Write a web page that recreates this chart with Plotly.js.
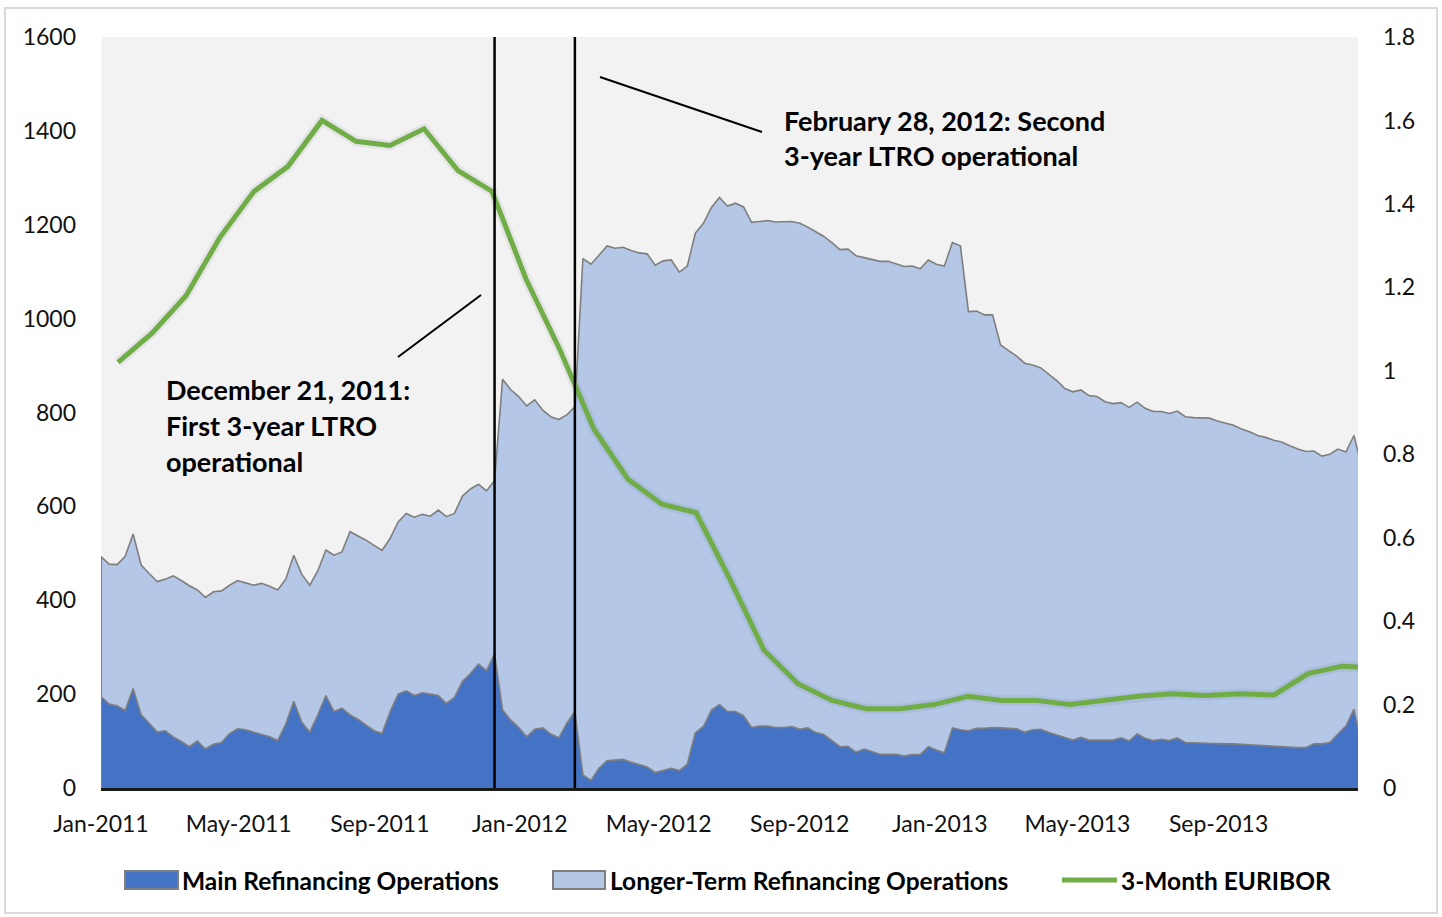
<!DOCTYPE html>
<html>
<head>
<meta charset="utf-8">
<script src="https://cdn.plot.ly/plotly-3.0.1.min.js"></script>
<style>
  html, body { margin: 0; padding: 0; background: #ffffff; }
  #chart { width: 1442px; height: 917px; }
</style>
</head>
<body>
<div id="chart"></div>
<script>
// Weekly observations start (Wednesday) and spacing
const weekStart = '2011-01-12';
const weekStepDays = 7;

// Main Refinancing Operations (EUR bn), weekly
const mroValues = [
  195,179,175,165,212,156,138,119,122,109,99,88,100,83,93,97,116,126,124,119,
  115,109,101,136,185,140,119,156,197,163,170,156,146,134,122,116,163,200,207,197,
  203,200,197,180,193,227,244,264,250,286,166,145,129,109,125,128,115,107,138,163,
  28,16,42,58,60,61,55,50,45,33,38,42,37,51,118,131,166,178,163,163,
  154,129,132,132,129,129,131,125,128,118,114,101,88,89,76,83,77,72,72,72,
  68,71,71,88,81,75,128,124,122,127,127,129,128,127,126,119,124,125,118,113,
  108,102,108,102,102,102,102,107,100,115,106,101,104,101,107,97,97,96,95,94,
  94,94,93,92,90,89,89,88,87,86,86,94,94,97,115,132,168,90
];

// Longer-Term Refinancing Operations (EUR bn), weekly
const ltroValues = [
  298,298,301,328,329,319,319,321,323,343,343,343,322,323,325,323,316,316,313,313,
  321,321,321,309,311,315,313,307,310,333,333,390,391,394,395,390,369,367,378,380,
  380,379,395,398,392,395,393,383,383,369,705,704,705,705,702,677,676,678,657,649,
  1100,1100,1093,1097,1090,1091,1090,1090,1093,1081,1085,1083,1062,1061,1064,1072,1071,1080,1077,1083,
  1084,1076,1075,1077,1077,1077,1076,1078,1067,1067,1061,1061,1059,1059,1058,1047,1049,1050,1050,1044,
  1043,1041,1035,1037,1035,1037,1034,1031,893,889,881,879,816,805,794,786,777,770,764,755,
  743,742,740,734,732,721,717,714,711,707,703,701,698,697,696,694,692,693,693,688,
  684,679,672,667,661,658,652,649,642,636,631,624,613,614,607,584,583,591
];

// 3-Month EURIBOR (%), monthly averages
const euriborMonths = [
  'Jan-2011','Feb-2011','Mar-2011','Apr-2011','May-2011','Jun-2011','Jul-2011','Aug-2011','Sep-2011','Oct-2011','Nov-2011','Dec-2011',
  'Jan-2012','Feb-2012','Mar-2012','Apr-2012','May-2012','Jun-2012','Jul-2012','Aug-2012','Sep-2012','Oct-2012','Nov-2012','Dec-2012',
  'Jan-2013','Feb-2013','Mar-2013','Apr-2013','May-2013','Jun-2013','Jul-2013','Aug-2013','Sep-2013','Oct-2013','Nov-2013','Dec-2013',
  'Jan-2014','Feb-2014'
];
const euriborValues = [
  1.02,1.09,1.18,1.32,1.43,1.49,1.60,1.55,1.54,1.58,1.48,1.43,
  1.22,1.05,0.86,0.74,0.68,0.66,0.50,0.33,0.25,0.21,0.19,0.19,
  0.20,0.22,0.21,0.21,0.20,0.21,0.22,0.226,0.222,0.226,0.223,0.274,
  0.292,0.288
];

// Event markers (position of the vertical rules on the date axis)
const eventDates = ['2011-12-21', '2012-02-29'];
const eventLabels = [
  ['December 21, 2011:', 'First 3-year LTRO', 'operational'],
  ['February 28, 2012: Second', '3-year LTRO operational']
];
const seriesNames = ['Main Refinancing Operations', 'Longer-Term Refinancing Operations', '3-Month EURIBOR'];

// Build weekly date list
function addDays(iso, n) {
  const d = new Date(iso + 'T00:00:00Z');
  d.setTime(d.getTime() + n * 86400000);
  return d.toISOString().slice(0, 19).replace('T', ' ');
}
const weekDates = mroValues.map((_, i) => addDays(weekStart, i * weekStepDays).slice(0, 10));
const axisEnd = addDays(weekStart, (mroValues.length - 1.5) * weekStepDays);

const FONT = 'Lato, "Open Sans", sans-serif';
const C_MRO = '#4472c4', C_LTRO = '#b4c7e7', C_EDGE = '#7f7f7f', C_GREEN = '#70ad47';

const traces = [
  {
    x: weekDates, y: mroValues, name: seriesNames[0], type: 'scatter', mode: 'lines',
    stackgroup: 'ops', fillcolor: C_MRO, line: {color: C_EDGE, width: 1.6},
    xaxis: 'x', yaxis: 'y', hoverinfo: 'x+y+name'
  },
  {
    x: weekDates, y: ltroValues, name: seriesNames[1], type: 'scatter', mode: 'lines',
    stackgroup: 'ops', fillcolor: C_LTRO, line: {color: C_EDGE, width: 1.6},
    xaxis: 'x', yaxis: 'y', hoverinfo: 'x+y+name'
  },
  {
    x: euriborMonths, y: euriborValues, name: 'shadow', type: 'scatter', mode: 'lines',
    line: {color: 'rgba(60,60,90,0.08)', width: 10}, xaxis: 'x2', yaxis: 'y2',
    hoverinfo: 'skip', showlegend: false
  },
  {
    x: euriborMonths, y: euriborValues, name: seriesNames[2], type: 'scatter', mode: 'lines',
    line: {color: C_GREEN, width: 5}, xaxis: 'x2', yaxis: 'y2'
  }
];

// plot-area pixel helpers (paper fractions)
const PL = 101, PR = 1358, PT = 37, PB = 788;
const px = v => (v - PL) / (PR - PL);
const py = v => (PB - v) / (PB - PT);

const shapes = [];
// chart border
shapes.push({type: 'rect', xref: 'paper', yref: 'paper', x0: px(5), x1: px(1437), y0: py(913), y1: py(8),
  line: {color: '#d9d9d9', width: 2}, fillcolor: 'rgba(0,0,0,0)', layer: 'below'});
// left edge of the stacked area
shapes.push({type: 'line', xref: 'x', yref: 'y', x0: weekDates[0], x1: weekDates[0], y0: 0,
  y1: mroValues[0] + ltroValues[0], line: {color: C_EDGE, width: 2}});
// event verticals
eventDates.forEach(d => shapes.push({type: 'line', xref: 'x', yref: 'paper', x0: d, x1: d, y0: 0, y1: 1,
  line: {color: '#000000', width: 2.5}, layer: 'above'}));
// leader lines
shapes.push({type: 'line', xref: 'paper', yref: 'paper', x0: px(398), y0: py(357), x1: px(481), y1: py(295),
  line: {color: '#000000', width: 2}});
shapes.push({type: 'line', xref: 'paper', yref: 'paper', x0: px(600), y0: py(77), x1: px(762), y1: py(132),
  line: {color: '#000000', width: 2}});
// legend swatches
shapes.push({type: 'rect', xref: 'paper', yref: 'paper', x0: px(125), x1: px(178), y0: py(889), y1: py(871),
  fillcolor: C_MRO, line: {color: C_EDGE, width: 2}});
shapes.push({type: 'rect', xref: 'paper', yref: 'paper', x0: px(553), x1: px(605), y0: py(889), y1: py(871),
  fillcolor: C_LTRO, line: {color: C_EDGE, width: 2}});
shapes.push({type: 'line', xref: 'paper', yref: 'paper', x0: px(1062), x1: px(1117), y0: py(880), y1: py(880),
  line: {color: C_GREEN, width: 5}});

const annFont = {family: FONT, size: 27, color: '#000000', weight: 700};
const legFont = {family: FONT, size: 24.5, color: '#000000', weight: 700};
const annotations = [];
const ev1Y = [389, 425, 461];
eventLabels[0].forEach((t, i) => annotations.push({xref: 'paper', yref: 'paper', x: px(164), y: py(ev1Y[i]),
  xanchor: 'left', yanchor: 'middle', showarrow: false, text: '<b>' + t + '</b>', font: annFont}));
const ev2Y = [120, 155];
eventLabels[1].forEach((t, i) => annotations.push({xref: 'paper', yref: 'paper', x: px(782), y: py(ev2Y[i]),
  xanchor: 'left', yanchor: 'middle', showarrow: false, text: '<b>' + t + '</b>', font: annFont}));
// legend labels
const legX = [180, 608, 1119];
seriesNames.forEach((t, i) => annotations.push({xref: 'paper', yref: 'paper', x: px(legX[i]), y: py(880),
  xanchor: 'left', yanchor: 'middle', showarrow: false, text: '<b>' + t + '</b>', font: legFont}));

const tickFont = {family: FONT, size: 23, color: '#111111'};

const layout = {
  width: 1442, height: 917,
  margin: {l: PL, r: 1442 - PR, t: PT, b: 917 - PB, pad: 0},
  paper_bgcolor: '#ffffff', plot_bgcolor: '#f2f2f2',
  showlegend: false,
  xaxis: {
    type: 'date', range: [weekStart, axisEnd], tick0: weekStart, dtick: 'M4', tickformat: '%b-%Y',
    showgrid: false, zeroline: false, showline: true, linecolor: '#1a1a1a', linewidth: 2.5,
    ticks: '', ticklabelstandoff: 14, tickfont: tickFont, fixedrange: true
  },
  yaxis: {
    range: [0, 1600], dtick: 200, tick0: 0, showgrid: false, zeroline: false, showline: false,
    ticks: '', ticklabelstandoff: 24, tickfont: tickFont, fixedrange: true
  },
  xaxis2: {
    type: 'category', overlaying: 'x', anchor: 'y2', visible: false,
    range: [-0.5, 36.47], fixedrange: true
  },
  yaxis2: {
    overlaying: 'y', side: 'right', anchor: 'x2', range: [0, 1.8], dtick: 0.2, tick0: 0,
    showgrid: false, zeroline: false, showline: false, ticks: '', ticklabelstandoff: 24,
    tickfont: tickFont, fixedrange: true
  },
  shapes: shapes,
  annotations: annotations
};

Plotly.newPlot('chart', traces, layout, {displayModeBar: false, staticPlot: true});
</script>
</body>
</html>
